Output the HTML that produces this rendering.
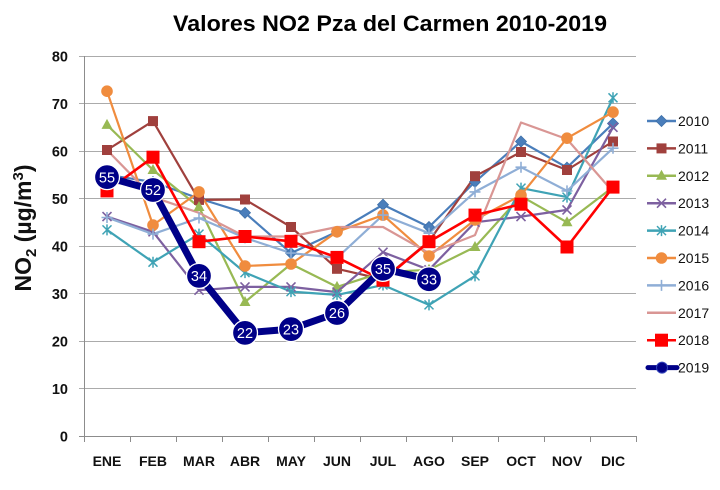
<!DOCTYPE html>
<html><head><meta charset="utf-8"><style>
html,body{margin:0;padding:0;background:#fff;}
svg{display:block;}
text{font-family:"Liberation Sans",sans-serif;}
</style></head><body>
<svg width="720" height="490" viewBox="0 0 720 490" xmlns="http://www.w3.org/2000/svg">
<rect width="720" height="490" fill="#fff"/>
<defs>
<g id="m2010"><polygon points="0,-5.5 5.5,0 0,5.5 -5.5,0" fill="#4A7EBB" stroke="#3E6FA8" stroke-width="0.8"/></g>
<g id="m2011"><rect x="-5" y="-5" width="10" height="10" fill="#A0403D"/></g>
<g id="m2012"><polygon points="0,-6 5.5,4 -5.5,4" fill="#98B954"/></g>
<g id="m2013"><path d="M-4.5,-4.5 L4.5,4.5 M-4.5,4.5 L4.5,-4.5" stroke="#7D60A0" stroke-width="1.6"/></g>
<g id="m2014"><path d="M-4.5,-4.5 L4.5,4.5 M-4.5,4.5 L4.5,-4.5 M0,-5.5 L0,5.5" stroke="#3FA3B5" stroke-width="1.5"/></g>
<g id="m2015"><circle r="5.8" fill="#F08C3E"/></g>
<g id="m2016"><path d="M-5.5,0 L5.5,0 M0,-5.5 L0,5.5" stroke="#8FAED6" stroke-width="1.6"/></g>
<g id="m2018"><rect x="-6.5" y="-6.5" width="13" height="13" fill="#FF0000"/></g>
</defs>

<!-- title -->
<text x="390" y="31" font-size="22" font-weight="bold" text-anchor="middle" textLength="434" lengthAdjust="spacingAndGlyphs" fill="#000">Valores NO2 Pza del Carmen 2010-2019</text>

<!-- gridlines -->
<g stroke="#ABABAB" stroke-width="1">
<line x1="79" y1="56.5" x2="636" y2="56.5"/>
<line x1="79" y1="103.5" x2="636" y2="103.5"/>
<line x1="79" y1="151.5" x2="636" y2="151.5"/>
<line x1="79" y1="198.5" x2="636" y2="198.5"/>
<line x1="79" y1="246.5" x2="636" y2="246.5"/>
<line x1="79" y1="293.5" x2="636" y2="293.5"/>
<line x1="79" y1="341.5" x2="636" y2="341.5"/>
<line x1="79" y1="388.5" x2="636" y2="388.5"/>
</g>
<g stroke="#8C8C8C" stroke-width="1">
<line x1="79" y1="436.5" x2="636" y2="436.5"/>
<line x1="84.5" y1="56" x2="84.5" y2="442"/>
<line x1="130.5" y1="436" x2="130.5" y2="442"/>
<line x1="176.5" y1="436" x2="176.5" y2="442"/>
<line x1="222.5" y1="436" x2="222.5" y2="442"/>
<line x1="268.5" y1="436" x2="268.5" y2="442"/>
<line x1="314.5" y1="436" x2="314.5" y2="442"/>
<line x1="360.5" y1="436" x2="360.5" y2="442"/>
<line x1="406.5" y1="436" x2="406.5" y2="442"/>
<line x1="452.5" y1="436" x2="452.5" y2="442"/>
<line x1="498.5" y1="436" x2="498.5" y2="442"/>
<line x1="544.5" y1="436" x2="544.5" y2="442"/>
<line x1="590.5" y1="436" x2="590.5" y2="442"/>
<line x1="636.5" y1="436" x2="636.5" y2="442"/>
</g>

<!-- y tick labels -->
<g font-size="14.5" font-weight="bold" text-anchor="end" fill="#111">
<text x="68" y="61.5">80</text>
<text x="68" y="109">70</text>
<text x="68" y="156.5">60</text>
<text x="68" y="204">50</text>
<text x="68" y="251.5">40</text>
<text x="68" y="299">30</text>
<text x="68" y="346.5">20</text>
<text x="68" y="394">10</text>
<text x="68" y="441.5">0</text>
</g>

<!-- x labels -->
<g font-size="14" font-weight="bold" text-anchor="middle" fill="#111">
<text x="107" y="466">ENE</text>
<text x="153" y="466">FEB</text>
<text x="199" y="466">MAR</text>
<text x="245" y="466">ABR</text>
<text x="291" y="466">MAY</text>
<text x="337" y="466">JUN</text>
<text x="383" y="466">JUL</text>
<text x="429" y="466">AGO</text>
<text x="475" y="466">SEP</text>
<text x="521" y="466">OCT</text>
<text x="567" y="466">NOV</text>
<text x="613" y="466">DIC</text>
</g>

<!-- y axis title -->
<text transform="translate(31,228) rotate(-90)" font-size="23" font-weight="bold" text-anchor="middle" fill="#111">NO<tspan font-size="15" dy="5">2</tspan><tspan dy="-5"> (µg/m</tspan><tspan font-size="15" dy="-8">3</tspan><tspan dy="8">)</tspan></text>

<!-- series -->
<g fill="none" stroke-linejoin="round" stroke-linecap="round">
<polyline stroke="#4A7EBB" stroke-width="2.2" points="107,174.8 153,182 199,198.5 245,212.8 291,253.1 337,231.8 383,204.7 429,227 475,181.9 521,141.5 567,167.6 613,123.5"/>
<polyline stroke="#A0403D" stroke-width="2.2" points="107,150 153,121.1 199,199.9 245,199.5 291,227 337,268.8 383,279.3 429,241.3 475,176.2 521,152 567,170 613,141.5"/>
<polyline stroke="#98B954" stroke-width="2.2" points="107,124.9 153,170 199,207 245,302 291,264 337,286.9 383,272.1 429,269.8 475,247 521,196.1 567,222.3 613,187.1"/>
<polyline stroke="#7D60A0" stroke-width="2.2" points="107,216.6 153,231.8 199,290.2 245,286.9 291,286.9 337,292.1 383,252.2 429,269.8 475,222.3 521,216.6 567,209.9 613,127.3"/>
<polyline stroke="#3FA3B5" stroke-width="2.2" points="107,229.9 153,262.2 199,234.1 245,272.6 291,291.6 337,294.9 383,285 429,304.9 475,275.9 521,188.1 567,197.1 613,97.8"/>
<polyline stroke="#F08C3E" stroke-width="2.2" points="107,91.2 153,225.1 199,191.9 245,266 291,264 337,231.8 383,215.1 429,256 475,219.9 521,195.2 567,138.2 613,112.1"/>
<polyline stroke="#8FAED6" stroke-width="2.2" points="107,217.5 153,234.1 199,218 245,237.9 291,253.1 337,257.9 383,215.1 429,233.2 475,191.9 521,167.2 567,190.9 613,148.2"/>
<polyline stroke="#D99694" stroke-width="2.2" points="107,150 153,197.1 199,212.8 245,236.5 291,236.5 337,227 383,227 429,253.1 475,235.1 521,122.5 567,139.1 613,191.9"/>
<polyline stroke="#FF0000" stroke-width="2.6" points="107,190.9 153,157.2 199,241.7 245,236.5 291,241.3 337,257.4 383,280.2 429,241.7 475,215.1 521,204.2 567,247 613,187.1"/>
</g>

<!-- markers -->
<g>
<use href="#m2010" x="107" y="174.8"/><use href="#m2010" x="153" y="182"/><use href="#m2010" x="199" y="198.5"/><use href="#m2010" x="245" y="212.8"/><use href="#m2010" x="291" y="253.1"/><use href="#m2010" x="337" y="231.8"/><use href="#m2010" x="383" y="204.7"/><use href="#m2010" x="429" y="227"/><use href="#m2010" x="475" y="181.9"/><use href="#m2010" x="521" y="141.5"/><use href="#m2010" x="567" y="167.6"/><use href="#m2010" x="613" y="123.5"/>
<use href="#m2011" x="107" y="150"/><use href="#m2011" x="153" y="121.1"/><use href="#m2011" x="199" y="199.9"/><use href="#m2011" x="245" y="199.5"/><use href="#m2011" x="291" y="227"/><use href="#m2011" x="337" y="268.8"/><use href="#m2011" x="383" y="279.3"/><use href="#m2011" x="429" y="241.3"/><use href="#m2011" x="475" y="176.2"/><use href="#m2011" x="521" y="152"/><use href="#m2011" x="567" y="170"/><use href="#m2011" x="613" y="141.5"/>
<use href="#m2012" x="107" y="124.9"/><use href="#m2012" x="153" y="170"/><use href="#m2012" x="199" y="207"/><use href="#m2012" x="245" y="302"/><use href="#m2012" x="291" y="264"/><use href="#m2012" x="337" y="286.9"/><use href="#m2012" x="383" y="272.1"/><use href="#m2012" x="429" y="269.8"/><use href="#m2012" x="475" y="247"/><use href="#m2012" x="521" y="196.1"/><use href="#m2012" x="567" y="222.3"/><use href="#m2012" x="613" y="187.1"/>
<use href="#m2013" x="107" y="216.6"/><use href="#m2013" x="153" y="231.8"/><use href="#m2013" x="199" y="290.2"/><use href="#m2013" x="245" y="286.9"/><use href="#m2013" x="291" y="286.9"/><use href="#m2013" x="337" y="292.1"/><use href="#m2013" x="383" y="252.2"/><use href="#m2013" x="429" y="269.8"/><use href="#m2013" x="475" y="222.3"/><use href="#m2013" x="521" y="216.6"/><use href="#m2013" x="567" y="209.9"/><use href="#m2013" x="613" y="127.3"/>
<use href="#m2014" x="107" y="229.9"/><use href="#m2014" x="153" y="262.2"/><use href="#m2014" x="199" y="234.1"/><use href="#m2014" x="245" y="272.6"/><use href="#m2014" x="291" y="291.6"/><use href="#m2014" x="337" y="294.9"/><use href="#m2014" x="383" y="285"/><use href="#m2014" x="429" y="304.9"/><use href="#m2014" x="475" y="275.9"/><use href="#m2014" x="521" y="188.1"/><use href="#m2014" x="567" y="197.1"/><use href="#m2014" x="613" y="97.8"/>
<use href="#m2015" x="107" y="91.2"/><use href="#m2015" x="153" y="225.1"/><use href="#m2015" x="199" y="191.9"/><use href="#m2015" x="245" y="266"/><use href="#m2015" x="291" y="264"/><use href="#m2015" x="337" y="231.8"/><use href="#m2015" x="383" y="215.1"/><use href="#m2015" x="429" y="256"/><use href="#m2015" x="475" y="219.9"/><use href="#m2015" x="521" y="195.2"/><use href="#m2015" x="567" y="138.2"/><use href="#m2015" x="613" y="112.1"/>
<use href="#m2016" x="107" y="217.5"/><use href="#m2016" x="153" y="234.1"/><use href="#m2016" x="199" y="218"/><use href="#m2016" x="245" y="237.9"/><use href="#m2016" x="291" y="253.1"/><use href="#m2016" x="337" y="257.9"/><use href="#m2016" x="383" y="215.1"/><use href="#m2016" x="429" y="233.2"/><use href="#m2016" x="475" y="191.9"/><use href="#m2016" x="521" y="167.2"/><use href="#m2016" x="567" y="190.9"/><use href="#m2016" x="613" y="148.2"/>
<use href="#m2018" x="107" y="190.9"/><use href="#m2018" x="153" y="157.2"/><use href="#m2018" x="199" y="241.7"/><use href="#m2018" x="245" y="236.5"/><use href="#m2018" x="291" y="241.3"/><use href="#m2018" x="337" y="257.4"/><use href="#m2018" x="383" y="280.2"/><use href="#m2018" x="429" y="241.7"/><use href="#m2018" x="475" y="215.1"/><use href="#m2018" x="521" y="204.2"/><use href="#m2018" x="567" y="247"/><use href="#m2018" x="613" y="187.1"/>
</g>

<!-- 2019 -->
<polyline fill="none" stroke="#000088" stroke-width="7" stroke-linejoin="round" stroke-linecap="round" points="107,177.1 153,190 199,275.9 245,332.9 291,329.1 337,313 383,268.8 429,279.3"/>
<g fill="#000088" stroke="#fff" stroke-width="1.3">
<circle cx="107" cy="177.1" r="12.5"/><circle cx="153" cy="190" r="12.5"/><circle cx="199" cy="275.9" r="12.5"/><circle cx="245" cy="332.9" r="12.5"/><circle cx="291" cy="329.1" r="12.5"/><circle cx="337" cy="313" r="12.5"/><circle cx="383" cy="268.8" r="12.5"/><circle cx="429" cy="279.3" r="12.5"/>
</g>
<g font-size="14.5" fill="#fff" text-anchor="middle">
<text x="107" y="182.3">55</text>
<text x="153" y="195.2">52</text>
<text x="199" y="281.1">34</text>
<text x="245" y="338.1">22</text>
<text x="291" y="334.3">23</text>
<text x="337" y="318.2">26</text>
<text x="383" y="274">35</text>
<text x="429" y="284.5">33</text>
</g>

<!-- legend -->
<g stroke-width="2.5">
<line x1="647" y1="121" x2="676" y2="121" stroke="#4A7EBB"/>
<line x1="647" y1="148.4" x2="676" y2="148.4" stroke="#A0403D"/>
<line x1="647" y1="175.8" x2="676" y2="175.8" stroke="#98B954"/>
<line x1="647" y1="203.2" x2="676" y2="203.2" stroke="#7D60A0"/>
<line x1="647" y1="230.6" x2="676" y2="230.6" stroke="#3FA3B5"/>
<line x1="647" y1="258" x2="676" y2="258" stroke="#F08C3E"/>
<line x1="647" y1="285.4" x2="676" y2="285.4" stroke="#8FAED6"/>
<line x1="647" y1="312.8" x2="676" y2="312.8" stroke="#D99694"/>
<line x1="647" y1="340.2" x2="676" y2="340.2" stroke="#FF0000"/>
<line x1="648" y1="367.6" x2="677" y2="367.6" stroke="#000088" stroke-width="5" stroke-linecap="round"/>
</g>
<use href="#m2010" x="661.5" y="121"/>
<use href="#m2011" x="661.5" y="148.4"/>
<use href="#m2012" x="661.5" y="175.8"/>
<use href="#m2013" x="661.5" y="203.2"/>
<use href="#m2014" x="661.5" y="230.6"/>
<use href="#m2015" x="661.5" y="258"/>
<use href="#m2016" x="661.5" y="285.4"/>
<use href="#m2018" x="661.5" y="340.2"/>
<circle cx="662" cy="367.6" r="5.5" fill="#000088" stroke="#3344bb" stroke-width="1"/>
<g font-size="14" fill="#111">
<text x="678" y="126">2010</text>
<text x="678" y="153.4">2011</text>
<text x="678" y="180.8">2012</text>
<text x="678" y="208.2">2013</text>
<text x="678" y="235.6">2014</text>
<text x="678" y="263">2015</text>
<text x="678" y="290.4">2016</text>
<text x="678" y="317.8">2017</text>
<text x="678" y="345.2">2018</text>
<text x="678" y="372.6">2019</text>
</g>
</svg>
</body></html>
